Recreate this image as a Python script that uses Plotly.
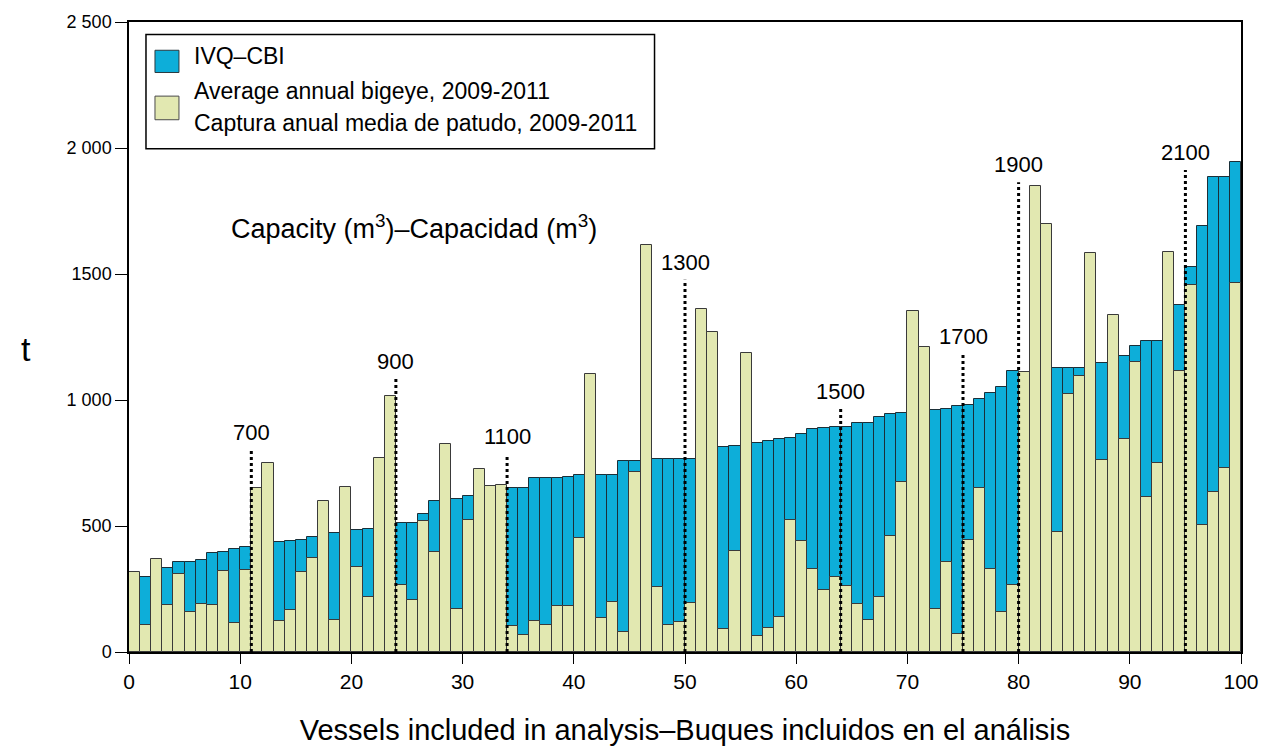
import plotly.graph_objects as go

vessels = list(range(1, 101))

ivq_cbi = [290, 298, 320, 335, 358, 358, 366, 391, 398, 409,
           418, 425, 430, 436, 441, 445, 456, 465, 474, 480,
           486, 488, 500, 505, 513, 513, 546, 598, 605, 607,
           620, 630, 640, 645, 650, 650, 689, 689, 689, 694,
           702, 703, 704, 704, 757, 757, 760, 764, 764, 764,
           764, 790, 800, 815, 819, 825, 829, 838, 844, 850,
           866, 884, 887, 891, 891, 908, 908, 934, 944, 949,
           952, 955, 960, 966, 975, 982, 1004, 1027, 1053, 1116,
           1105, 1120, 1125, 1128, 1128, 1128, 1140, 1148, 1160, 1174,
           1214, 1236, 1236, 1300, 1376, 1529, 1691, 1885, 1885, 1945]

bigeye_catch = [319, 107, 370, 186, 309, 159, 190, 186, 323, 115,
                327, 651, 750, 122, 165, 319, 374, 600, 126, 656,
                339, 219, 768, 1016, 266, 207, 520, 398, 826, 172,
                525, 728, 658, 664, 104, 68, 122, 108, 182, 182,
                452, 1103, 135, 198, 79, 713, 1616, 259, 109, 119,
                194, 1363, 1271, 92, 402, 1185, 64, 96, 139, 525,
                439, 331, 245, 299, 263, 191, 126, 220, 461, 674,
                1355, 1211, 172, 359, 73, 444, 651, 328, 159, 266,
                1112, 1848, 1699, 477, 1023, 1096, 1585, 760, 1337, 845,
                1151, 617, 751, 1587, 1116, 1455, 503, 634, 730, 1466]

capacity_pos = [11, 24, 34, 50, 64, 75, 80, 95]
capacity_labels = ["700", "900", "1100", "1300", "1500", "1700", "1900", "2100"]
capacity_line_top = [800, 1083, 784, 1477, 965, 1184, 1864, 1913]

y_tickvals = [0, 500, 1000, 1500, 2000, 2500]
y_ticktext = ["0", "500", "1 000", "1500", "2 000", "2 500"]
x_tickvals = [0, 10, 20, 30, 40, 50, 60, 70, 80, 90, 100]

legend_names = ["IVQ–CBI",
                "Average annual bigeye, 2009-2011",
                "Captura anual media de patudo, 2009-2011"]

BLUE = "#0DAED9"
YELLOW = "#E2E8B1"
FONT = "Liberation Sans, Arial, sans-serif"

W, H = 1271, 753
ML, MR, MT, MB = 129, 29, 18, 95

x_centers = [v - 0.5 for v in vessels]

fig = go.Figure()
fig.add_trace(go.Bar(
    x=x_centers, y=ivq_cbi, width=1, name=legend_names[0], showlegend=False,
    marker=dict(color=BLUE, line=dict(color="#1b2f38", width=1)),
))
fig.add_trace(go.Bar(
    x=x_centers, y=bigeye_catch, width=1,
    name=legend_names[1] + " / " + legend_names[2], showlegend=False,
    marker=dict(color=YELLOW, line=dict(color="#3a3a3a", width=1)),
))

for pos, lab, top in zip(capacity_pos, capacity_labels, capacity_line_top):
    fig.add_trace(go.Scatter(
        x=[pos, pos], y=[0, top], mode="lines",
        line=dict(color="black", width=3, dash="dot"),
        showlegend=False, hoverinfo="skip",
    ))
    fig.add_annotation(
        x=pos, y=top, xref="x", yref="y", text=lab, showarrow=False,
        yanchor="bottom", yshift=3, font=dict(size=22, color="black", family=FONT),
    )


def px_x(p):
    return (p - ML) / (W - ML - MR)


def px_y(p):
    return (H - MB - p) / (H - MT - MB)


fig.add_annotation(
    x=px_x(229), y=px_y(226), xref="paper", yref="paper", xanchor="left",
    yanchor="middle",
    text="Capacity (m<sup>3</sup>)–Capacidad (m<sup>3</sup>)", showarrow=False,
    font=dict(size=27, color="black", family=FONT),
)

fig.add_annotation(
    x=px_x(19), y=px_y(350), xref="paper", yref="paper", text="t", showarrow=False,
    font=dict(size=34, color="black", family=FONT),
)

# legend: box, swatches and labels
shapes = [
    dict(type="rect", xref="paper", yref="paper",
         x0=px_x(146), x1=px_x(655), y0=px_y(146.7), y1=px_y(30.7),
         line=dict(color="black", width=1.5), fillcolor="white", layer="above"),
    dict(type="rect", xref="paper", yref="paper",
         x0=px_x(155), x1=px_x(179), y0=px_y(69.3), y1=px_y(46.7),
         line=dict(color="#2a3a40", width=1), fillcolor=BLUE, layer="above"),
    dict(type="rect", xref="paper", yref="paper",
         x0=px_x(155), x1=px_x(179), y0=px_y(117.3), y1=px_y(93.3),
         line=dict(color="#4a4a4a", width=1), fillcolor=YELLOW, layer="above"),
]
for name, ypx in zip(legend_names, [53, 88, 121]):
    fig.add_annotation(
        x=px_x(192), y=px_y(ypx), xref="paper", yref="paper",
        xanchor="left", yanchor="middle", text=name, showarrow=False,
        font=dict(size=23, color="black", family=FONT),
    )

fig.update_layout(
    width=W, height=H,
    margin=dict(l=ML, r=MR, t=MT, b=MB),
    paper_bgcolor="white", plot_bgcolor="white",
    barmode="overlay", bargap=0,
    font=dict(family=FONT, color="black"),
    showlegend=False,
    shapes=shapes,
    xaxis=dict(
        range=[0, 100], tickvals=x_tickvals, ticks="outside", ticklen=10,
        tickcolor="black", showline=True, linecolor="black", linewidth=1.5,
        mirror=True, showgrid=False, zeroline=False,
        tickfont=dict(size=21, family=FONT, color="black"),
        title=dict(text="Vessels included in analysis–Buques incluidos en el análisis",
                   font=dict(size=29, family=FONT, color="black"), standoff=28),
    ),
    yaxis=dict(
        range=[0, 2500], tickvals=y_tickvals, ticktext=y_ticktext,
        ticks="outside", ticklen=12, tickcolor="black",
        showline=True, linecolor="black", linewidth=1.5, mirror=True,
        showgrid=False, zeroline=False,
        tickfont=dict(size=18, family=FONT, color="black"),
    ),
)

fig.write_html(
    "out.html",
    config={"displayModeBar": False},
    post_script="document.body.style.margin='0';document.body.style.overflow='hidden';",
)
